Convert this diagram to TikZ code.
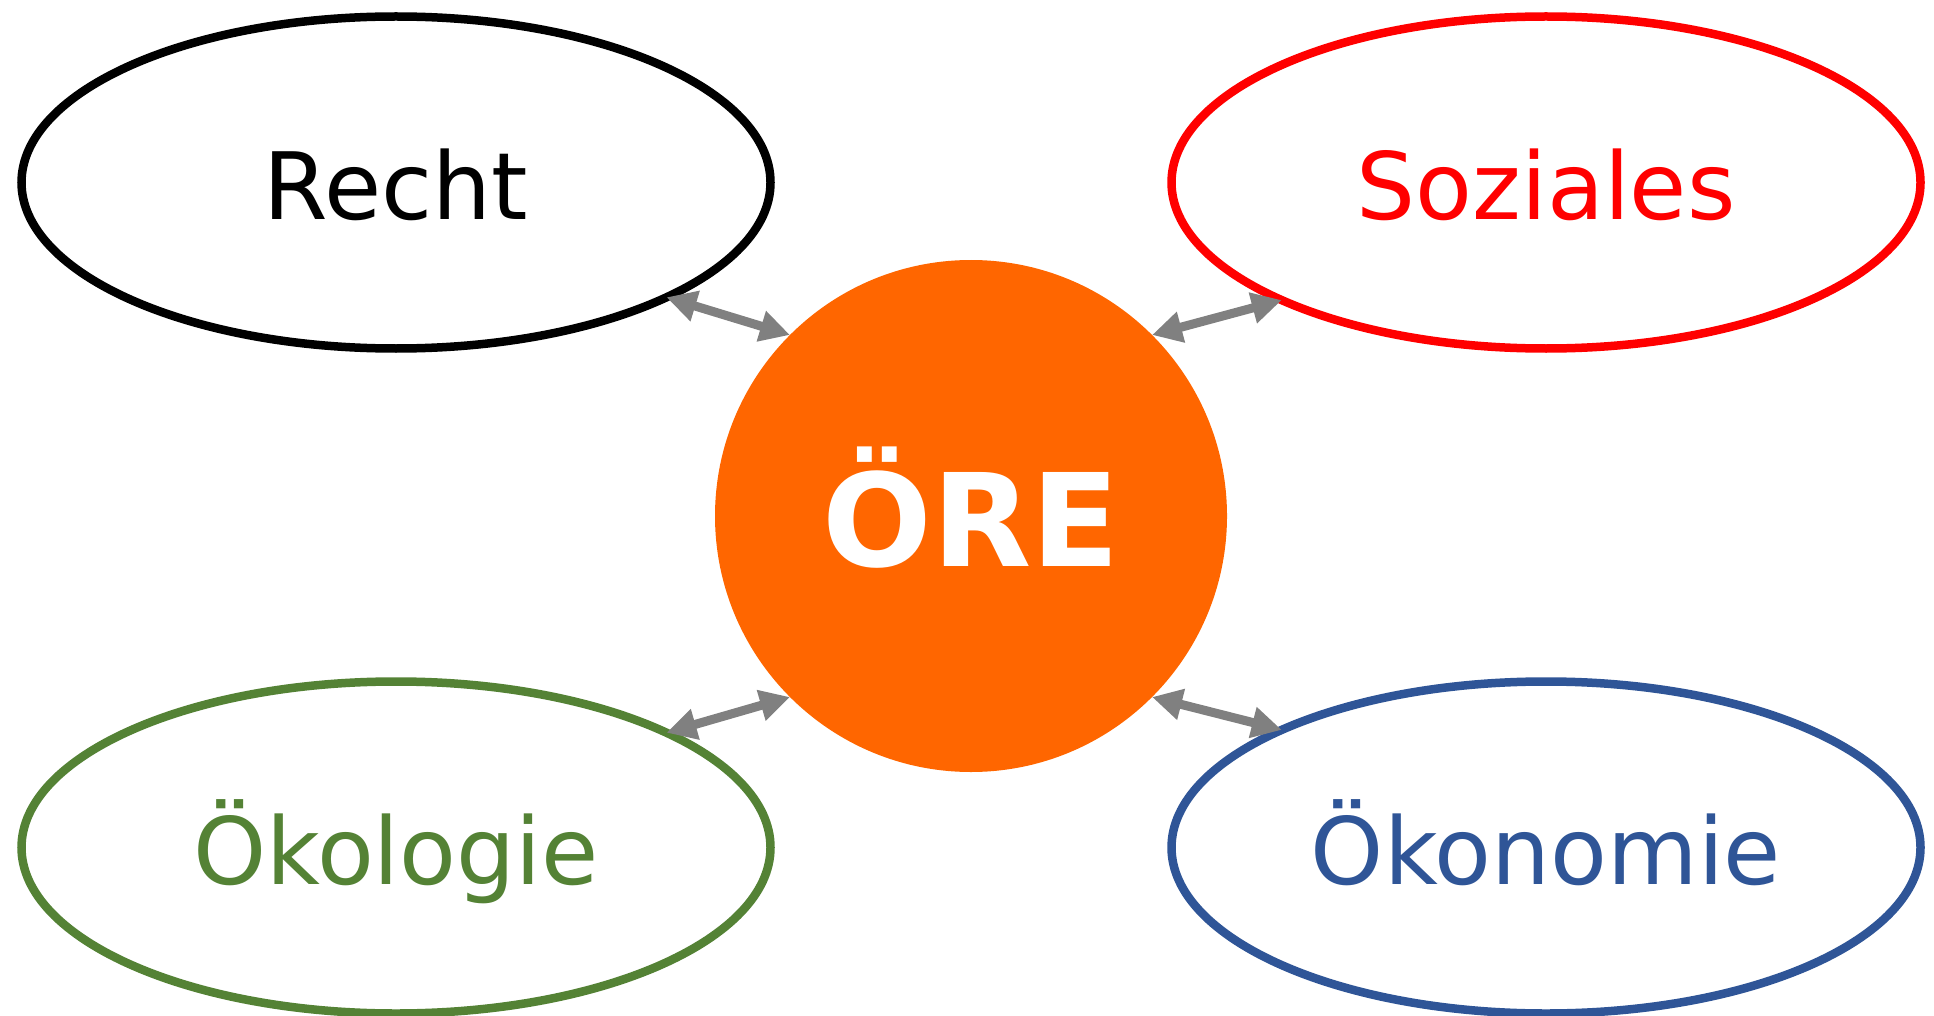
\documentclass[tikz,border=0pt]{standalone}
\usepackage{fontspec}
\setmainfont{DejaVu Sans}
\usepackage{tikz}
\usetikzlibrary{shapes,positioning,calc}
\usetikzlibrary{shapes.geometric}
\usetikzlibrary{arrows.meta}
\definecolor{orangekern}{HTML}{FF6600}
\definecolor{gruenoeko}{HTML}{548235}
\definecolor{blauoeko}{HTML}{2F5597}
\definecolor{grauPfeil}{HTML}{808080}
\tikzstyle{bereich} = [ellipse, minimum width=749pt, minimum height=332pt, line width=8.5pt, outer sep=0pt, inner sep=0pt,
text height=74pt, text depth=0pt, text centered, font=\fontsize{93}{110}\selectfont, fill=white]
\tikzstyle{kern} = [circle, minimum size=512pt, inner sep=0pt, outer sep=0pt, fill=orangekern, text=white,
text height=100pt, text depth=0pt, font=\bfseries\fontsize{129}{150}\selectfont]
\tikzstyle{pfeil} = [line width=9pt, draw=grauPfeil, {Triangle[length=30pt,width=30pt]}-{Triangle[length=30pt,width=30pt]}]

\begin{document}
\begin{tikzpicture}[x=1pt,y=-1pt]
\useasboundingbox (0,0) rectangle (1934,1016);
\node (recht) at (396,182.5) [bereich, draw=black, text=black] {Recht};
\node (soziales) at (1546,182.5) [bereich, draw=red, text=red] {Soziales};
\node (oekologie) at (396,847.5) [bereich, draw=gruenoeko, text=gruenoeko] {Ökologie};
\node (oekonomie) at (1546,847.5) [bereich, draw=blauoeko, text=blauoeko] {Ökonomie};
\node (ore) at (971,516) [kern] {ÖRE};
\draw[pfeil] (recht.-23.75) -- (ore.135);
\draw[pfeil] (soziales.-156.25) -- (ore.45);
\draw[pfeil] (oekologie.23.75) -- (ore.-135);
\draw[pfeil] (oekonomie.156.25) -- (ore.-45);
\end{tikzpicture}
\end{document}
